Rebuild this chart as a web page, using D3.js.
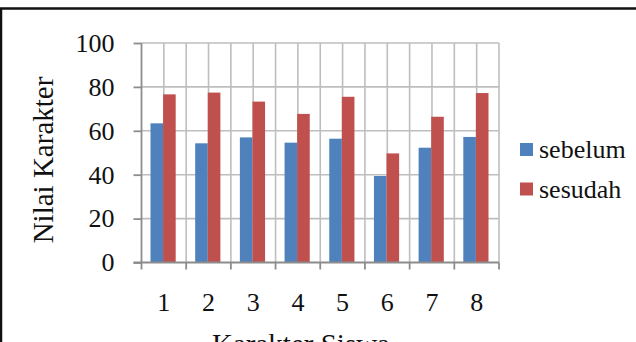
<!DOCTYPE html>
<html>
<head>
<meta charset="utf-8">
<script src="https://cdn.jsdelivr.net/npm/d3@7"></script>
<style>
  html, body { margin: 0; padding: 0; background: #fff; }
  svg { display: block; font-family: "Times New Roman", "Liberation Serif", serif; }
</style>
</head>
<body>
<svg id="chart"></svg>
<script>
const categories = ['1', '2', '3', '4', '5', '6', '7', '8'];
const sebelum = [63.4, 54.3, 57.0, 54.6, 56.4, 39.4, 52.3, 57.2];
const sesudah = [76.6, 77.4, 73.3, 67.7, 75.5, 49.7, 66.4, 77.2];
const seriesNames = ['sebelum', 'sesudah'];
const yTicks = [0, 20, 40, 60, 80, 100];

const width = 636, height = 342;
const marginLeft = 141.5, marginRight = 137, marginTop = 43, plotBottom = 262.5;

const svg = d3.select('#chart')
  .attr('width', width)
  .attr('height', height)
  .attr('viewBox', [0, 0, width, height]);

// outer frame (only top and left visible in the crop)
svg.append('rect')
  .attr('x', 1).attr('y', 8.5)
  .attr('width', width + 20).attr('height', height + 20)
  .attr('fill', 'none')
  .attr('stroke', '#111')
  .attr('stroke-width', 2.5);

const x = d3.scaleBand()
  .domain(categories)
  .range([marginLeft, width - marginRight])
  .paddingInner(0)
  .paddingOuter(0);

const x1 = d3.scaleBand()
  .domain(seriesNames)
  .range([9, x.bandwidth() - 10.5]);

const y = d3.scaleLinear()
  .domain([0, 100])
  .range([plotBottom, marginTop]);

const color = d3.scaleOrdinal()
  .domain(seriesNames)
  .range(['#4F81BD', '#C0504D']);

/** GRIDLINES **/
const grid = svg.append('g').attr('stroke', '#BEBEBE').attr('stroke-width', 1.6);
grid.selectAll('line.h')
  .data(yTicks.slice(1))
  .join('line')
  .attr('x1', marginLeft).attr('x2', width - marginRight)
  .attr('y1', (d) => y(d)).attr('y2', (d) => y(d));

// vertical lines at every category edge and centre
const vPos = [];
categories.forEach((c) => {
  vPos.push(x(c) + x.bandwidth() / 2);
  vPos.push(x(c) + x.bandwidth());
});
grid.selectAll('line.v')
  .data(vPos)
  .join('line')
  .attr('x1', (d) => d).attr('x2', (d) => d)
  .attr('y1', marginTop).attr('y2', plotBottom);

/** BARS **/
const rows = categories.map((c, i) => ({ cat: c, sebelum: sebelum[i], sesudah: sesudah[i] }));
svg.append('g')
  .selectAll('g')
  .data(rows)
  .join('g')
  .attr('transform', (d) => `translate(${x(d.cat)},0)`)
  .selectAll('rect')
  .data((d) => seriesNames.map((k) => ({ key: k, value: d[k] })))
  .join('rect')
  .attr('x', (d) => x1(d.key))
  .attr('width', x1.bandwidth())
  .attr('y', (d) => y(d.value))
  .attr('height', (d) => y(0) - y(d.value))
  .attr('fill', (d) => color(d.key));

/** AXES **/
const yAxis = svg.append('g')
  .attr('transform', `translate(${marginLeft},0)`)
  .call(d3.axisLeft(y).tickValues(yTicks).tickSize(8).tickPadding(19));
const xAxis = svg.append('g')
  .attr('transform', `translate(0,${plotBottom})`)
  .call(d3.axisBottom(x).tickSize(0).tickPadding(30));

// ticks at category edges for x axis
xAxis.selectAll('line.edge')
  .data([x(categories[0])].concat(categories.map((c) => x(c) + x.bandwidth())))
  .join('line')
  .attr('class', 'edge')
  .attr('x1', (d) => d).attr('x2', (d) => d)
  .attr('y1', 0).attr('y2', 7);

[yAxis, xAxis].forEach((a) => {
  a.select('.domain').attr('stroke', '#8C8C8C').attr('stroke-width', 1.8);
  a.selectAll('line').attr('stroke', '#8C8C8C').attr('stroke-width', 1.8);
  a.selectAll('text')
    .attr('fill', '#111')
    .style('font-family', '"Times New Roman", "Liberation Serif", serif')
    .style('font-size', '26px');
});
yAxis.select('.domain').attr('d', `M0,${marginTop}V${plotBottom}`);
xAxis.select('.domain').attr('d', `M${marginLeft - 8},0H${width - marginRight}`);
yAxis.selectAll('text').attr('dy', '0.32em');

/** AXIS TITLES **/
svg.append('text')
  .attr('transform', `translate(53,160) rotate(-90)`)
  .attr('text-anchor', 'middle')
  .style('font-size', '29px')
  .attr('fill', '#111')
  .text('Nilai Karakter');

svg.append('text')
  .attr('x', 301).attr('y', 354)
  .attr('text-anchor', 'middle')
  .style('font-size', '29px')
  .attr('fill', '#111')
  .text('Karakter Siswa');

/** LEGEND **/
const legend = svg.append('g');
seriesNames.forEach((name, i) => {
  const cy = 150 + i * 39.5;
  legend.append('rect')
    .attr('x', 520).attr('y', cy - 7)
    .attr('width', 13).attr('height', 13)
    .attr('fill', color(name));
  legend.append('text')
    .attr('x', 539).attr('y', cy + 8)
    .style('font-size', '26px')
    .attr('fill', '#111')
    .text(name);
});
</script>
</body>
</html>
